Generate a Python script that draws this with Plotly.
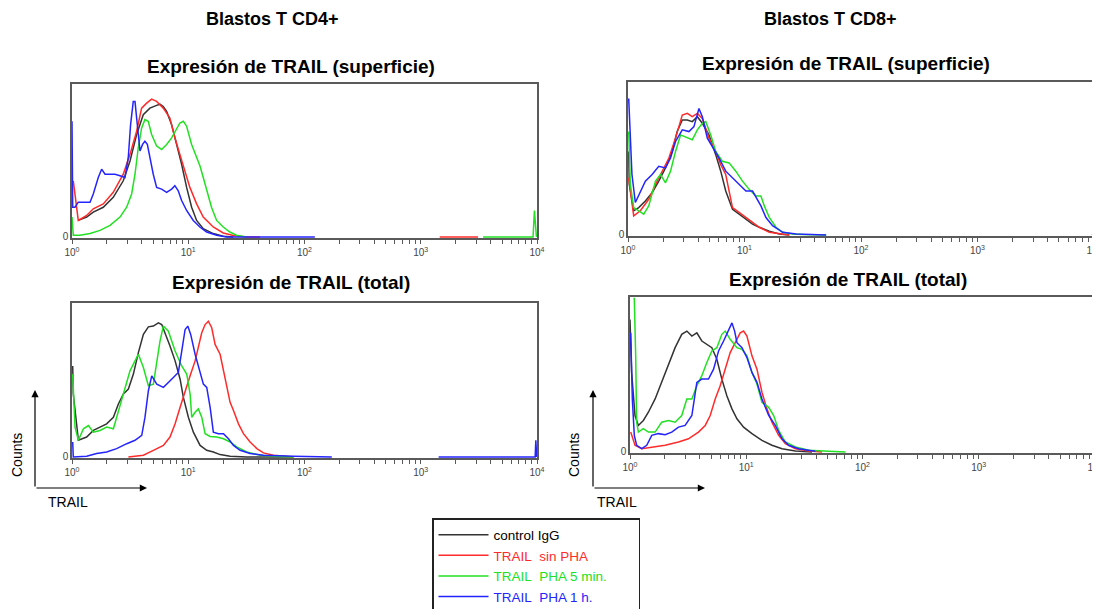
import plotly.graph_objects as go

# ---------------- data (x in log10 TRAIL units, y in relative counts) ----------------
# Panel 1: Blastos T CD4+, TRAIL superficie
p1_ctrl_log = [0.054,0.126,0.183,0.269,0.355,0.441,0.499,0.556,0.613,0.670,0.728,0.756,0.785,0.814,0.857,0.900,0.943,0.986,1.029,1.072,1.129,1.215,1.301,1.387]
p1_ctrl_cnt = [10.8,13.0,16.2,19.4,25.9,36.7,49.7,67.0,79.9,84.2,86.0,86.8,85.3,82.1,73.4,60.5,47.5,32.4,19.4,10.8,5.4,2.2,0.4,0]
p1_sin_log = [0.011,0.054,0.126,0.183,0.269,0.355,0.441,0.499,0.556,0.599,0.642,0.685,0.728,0.785,0.842,0.885,0.928,0.971,1.014,1.072,1.129,1.215,1.301,1.387,1.501,1.616,None,3.163,3.493]
p1_sin_cnt = [36.7,10.8,14.0,18.4,21.6,29.2,41.0,54.0,69.1,84.2,87.5,90.1,88.6,84.2,77.8,64.8,54.0,43.2,32.4,21.6,13.0,6.5,2.6,0.9,0,0,None,0,0]
p1_p5_log = [0.0,0.011,0.069,0.155,0.241,0.327,0.413,0.470,0.513,0.542,0.570,0.599,0.627,0.656,0.685,0.728,0.771,0.814,0.857,0.900,0.928,0.958,0.986,1.029,1.072,1.101,1.129,1.158,1.200,1.244,1.301,1.358,1.415,1.501,None,3.536,3.966,3.978,3.986,3.995]
p1_p5_cnt = [13.0,1.1,1.1,2.2,4.3,7.6,13.0,19.4,28.1,41.0,58.3,71.3,76.7,75.6,67.0,59.4,57.2,60.5,64.8,71.3,74.5,75.6,72.4,60.5,51.8,46.4,38.9,30.2,19.4,10.8,6.5,3.2,1.1,0,None,0,0,17.3,8,0]
p1_p1h_log = [0.0,0.006,0.026,0.054,0.155,0.183,0.226,0.255,0.284,0.327,0.370,0.413,0.456,0.484,0.504,0.527,0.542,0.556,0.585,0.607,0.627,0.648,0.670,0.699,0.728,0.771,0.814,0.857,0.885,0.914,0.943,0.986,1.043,1.100,1.158,1.244,1.330,2.089]
p1_p1h_cnt = [75.6,19.4,19.4,22.7,22.7,28.1,38.9,44.3,41.0,41.0,41.0,40.0,38.9,51.8,73.4,88.6,88.6,77.8,56.2,60.5,62.6,60.5,51.8,41.0,32.4,31.3,29.2,31.3,33.5,30.2,23.8,17.3,10.8,6.5,3.2,1.1,0,0]

# Panel 2: Blastos T CD8+, TRAIL superficie
p2_ctrl_log = [0.006,0.011,0.049,0.092,0.149,0.207,0.264,0.322,0.379,0.422,0.466,0.509,0.552,0.595,0.638,0.695,0.753,0.796,0.839,0.897,0.954,1.012,1.069,1.127,1.213,1.299,1.385]
p2_ctrl_cnt = [54.6,33.0,15.8,17.9,22.2,27.6,35.2,43.8,54.6,67.6,75.2,75.2,74.1,77.3,73.0,65.4,52.5,41.7,28.7,16.8,13.6,10.4,7.1,5.0,2.4,0.6,0]
p2_sin_log = [0.006,0.049,0.106,0.178,0.236,0.293,0.351,0.408,0.466,0.509,0.552,0.595,0.638,0.695,0.753,0.796,0.839,0.868,0.897,0.954,1.012,1.069,1.127,1.213,1.299,1.385]
p2_sin_cnt = [37.4,12.5,15.8,23.3,33.0,41.7,50.3,63.3,78.4,79.5,77.3,79.5,76.2,63.3,54.6,46.0,39.5,28.7,17.9,14.7,11.4,8.2,5.0,1.7,0.6,0]
p2_p5_log = [0.006,0.020,0.049,0.092,0.135,0.178,0.236,0.279,0.322,0.365,0.408,0.451,0.509,0.552,0.595,0.638,0.667,0.710,0.753,0.810,0.868,0.925,0.983,1.040,1.098,1.141,1.170,1.213,1.270,1.328,1.414,1.500,1.701]
p2_p5_cnt = [67.6,33.0,17.9,15.8,13.6,19.0,35.2,39.5,34.1,41.7,54.6,65.4,63.3,62.2,68.7,73.0,74.1,65.4,54.6,48.2,47.1,41.7,35.2,29.8,25.5,25.5,19.0,11.4,5.0,1.7,0.6,0.2,0]
p2_p1h_log = [0.006,0.034,0.063,0.106,0.149,0.207,0.264,0.322,0.365,0.408,0.466,0.523,0.566,0.609,0.638,0.681,0.724,0.782,0.839,0.897,0.954,1.012,1.069,1.112,1.141,1.184,1.241,1.328,1.443,1.701,None,3.985,3.997]
p2_p1h_cnt = [89.2,39.5,21.2,28.7,35.2,39.5,44.9,43.8,50.3,61.1,68.7,67.6,70.8,82.7,77.3,63.3,57.9,50.3,41.7,37.4,33.0,28.7,28.7,23.3,19.0,11.4,6.0,1.7,0.6,0,None,0,2]

# Panel 3: Blastos T CD4+, TRAIL total
p3_ctrl_log = [0.006,0.011,0.055,0.126,0.184,0.241,0.298,0.356,0.399,0.442,0.485,0.528,0.571,0.614,0.657,0.700,0.743,0.772,0.800,0.843,0.887,0.930,0.958,1.001,1.044,1.102,1.159,1.216,1.274,1.360,1.503,1.905]
p3_ctrl_cnt = [59.1,40.9,10.8,12.9,17.2,19.4,21.5,25.8,34.4,40.9,44.1,53.8,67.8,79.6,84.5,85.0,87.1,86.0,80.7,72.1,62.4,50.5,38.7,25.8,16.1,7.5,4.3,3.2,1.5,0.4,0,0]
p3_sin_log = [0.485,0.614,0.700,0.786,0.843,0.887,0.930,0.973,1.016,1.059,1.087,1.116,1.145,1.173,1.202,1.231,1.274,1.303,1.331,1.360,1.389,1.432,1.475,1.532,1.590,1.647,1.733,1.905]
p3_sin_cnt = [0,1.1,4.3,7.5,12.9,21.5,32.3,43.0,52.7,62.4,71.0,80.7,86.0,88.2,83.9,73.1,66.7,55.9,45.2,35.5,30.1,21.5,15.1,9.7,5.4,2.6,1.1,0]
p3_p5_log = [0.006,0.026,0.055,0.098,0.141,0.184,0.241,0.298,0.356,0.399,0.442,0.499,0.542,0.571,0.614,0.657,0.700,0.729,0.757,0.786,0.829,0.887,0.944,0.987,1.016,1.030,1.059,1.087,1.116,1.145,1.188,1.245,1.303,1.360,1.417,1.503,1.618,1.762,1.905]
p3_p5_cnt = [53.8,19.4,10.8,18.3,20.4,16.1,17.2,19.4,18.3,30.1,40.9,55.9,62.4,66.7,58.1,46.2,47.3,62.4,75.3,85.0,81.7,68.8,59.1,53.8,40.9,25.8,29.0,31.2,25.8,15.1,13.3,12.9,11.8,9.7,6.5,3.2,1.1,0.4,0]
p3_p1h_log = [0.006,0.011,0.126,0.212,0.298,0.384,0.471,0.542,0.600,0.628,0.657,0.686,0.729,0.786,0.829,0.872,0.915,0.944,0.973,0.996,1.021,1.059,1.102,1.130,1.159,1.188,1.216,1.259,1.303,1.346,1.389,1.446,1.532,1.647,1.905,2.235,None,3.154,3.984,3.990,3.997]
p3_p1h_cnt = [9.7,0,0.4,2.2,3.2,5.4,8.6,10.8,14.0,25.8,43.0,52.7,47.3,45.2,48.4,51.6,54.9,68.8,82.8,85.0,79.6,66.7,55.9,47.3,45.2,32.3,16.1,15.1,15.1,11.8,7.5,4.3,2.2,1.1,0.4,0,None,0,0,10.8,0]

# Panel 4: Blastos T CD8+, TRAIL total
p4_ctrl_log = [0.0,0.014,0.043,0.072,0.115,0.158,0.216,0.273,0.331,0.388,0.445,0.489,0.532,0.575,0.618,0.661,0.704,0.747,0.790,0.833,0.877,0.920,0.977,1.049,1.135,1.221,1.308,1.423,1.566]
p4_ctrl_cnt = [85.5,51.3,23.5,17.1,20.3,25.6,34.2,44.9,55.6,67.3,75.9,78.0,74.8,76.9,71.6,69.5,67.3,59.8,47.0,36.3,27.8,21.4,16.0,11.8,7.5,4.3,2.1,0.6,0]
p4_sin_log = [0.006,0.043,0.101,0.187,0.302,0.417,0.503,0.589,0.647,0.690,0.733,0.776,0.819,0.862,0.905,0.948,0.977,1.006,1.049,1.092,1.135,1.178,1.221,1.279,1.336,1.423,1.538,1.652]
p4_sin_cnt = [12.8,4.3,2.1,3.2,4.3,6.4,8.5,12.8,17.1,23.5,34.2,42.7,53.4,64.1,70.5,76.9,78.0,74.8,62.0,53.4,38.5,27.8,19.2,10.7,5.3,2.1,0.6,0]
p4_p5_log = [0.029,0.037,0.049,0.057,0.072,0.115,0.158,0.216,0.273,0.331,0.388,0.445,0.489,0.532,0.575,0.618,0.661,0.704,0.747,0.790,0.819,0.862,0.920,0.963,1.006,1.049,1.092,1.135,1.193,1.236,1.279,1.336,1.423,1.538,1.710,1.854,None,3.980,3.990,3.997]
p4_p5_cnt = [99,99,62.0,19.2,12.8,15.0,12.8,12.8,19.2,20.3,19.2,23.5,34.2,34.2,42.7,49.2,57.7,65.2,67.3,75.9,78.0,72.7,67.3,66.2,62.0,51.3,43.8,32.1,28.8,23.5,13.9,6.4,3.2,1.1,0.4,0,None,0,6.4,0]
p4_p1h_log = [0.006,0.020,0.037,0.057,0.101,0.144,0.187,0.244,0.302,0.359,0.417,0.474,0.532,0.575,0.618,0.675,0.719,0.762,0.805,0.848,0.877,0.900,0.920,0.963,1.006,1.049,1.092,1.135,1.193,1.250,1.308,1.365,1.451,1.595]
p4_p1h_cnt = [76.9,34.2,10.7,4.3,2.1,4.3,10.7,11.8,11.1,12.8,16.0,17.1,23.5,44.9,47.0,47.0,53.4,65.2,71.6,79.1,83.3,78.0,70.5,67.3,60.9,51.3,44.9,34.2,23.5,17.1,8.5,4.3,2.1,0.4]

series_names = ["control IgG", "TRAIL\u00a0 sin PHA", "TRAIL\u00a0 PHA 5 min.", "TRAIL\u00a0 PHA 1 h."]
series_colors = ["#333333", "#ff2b2b", "#22e022", "#2424ff"]
legend_text_colors = ["#000000", "#ff2b2b", "#22e022", "#2424ff"]

panel_titles = ["Expresión de TRAIL (superficie)", "Expresión de TRAIL (superficie)",
                "Expresión de TRAIL (total)", "Expresión de TRAIL (total)"]
column_titles = ["Blastos T CD4+", "Blastos T CD8+"]

decade_values = [1, 10, 100, 1000, 10000]
decade_labels = ["10<sup>0</sup>", "10<sup>1</sup>", "10<sup>2</sup>", "10<sup>3</sup>", "10<sup>4</sup>"]
minor_mults = [2, 3, 4, 5, 6, 7, 8, 9]

panels = [
    [(p1_ctrl_log, p1_ctrl_cnt), (p1_sin_log, p1_sin_cnt), (p1_p5_log, p1_p5_cnt), (p1_p1h_log, p1_p1h_cnt)],
    [(p2_ctrl_log, p2_ctrl_cnt), (p2_sin_log, p2_sin_cnt), (p2_p5_log, p2_p5_cnt), (p2_p1h_log, p2_p1h_cnt)],
    [(p3_ctrl_log, p3_ctrl_cnt), (p3_sin_log, p3_sin_cnt), (p3_p5_log, p3_p5_cnt), (p3_p1h_log, p3_p1h_cnt)],
    [(p4_ctrl_log, p4_ctrl_cnt), (p4_sin_log, p4_sin_cnt), (p4_p5_log, p4_p5_cnt), (p4_p1h_log, p4_p1h_cnt)],
]

# ---------------- layout geometry (page pixels) ----------------
PAGE_OFF = 8            # default body margin of the html page
W, H = 1100 - PAGE_OFF, 609 - PAGE_OFF
FONT = "Arial, Liberation Sans, sans-serif"
# (left, right, top, bottom) of each plot box in page pixels
boxes = [(72, 537, 84, 238), (628, 1094, 82, 236), (72, 537, 303, 458), (630, 1095, 297, 453)]


def px_x(p):
    return (p - PAGE_OFF) / W


def px_y(p):
    return 1 - (p - PAGE_OFF) / H


minor_vals = [m * d for d in decade_values[:-1] for m in minor_mults]

fig = go.Figure()

for pi, panel in enumerate(panels):
    ax = "" if pi == 0 else str(pi + 1)
    for si, (lx, cy) in enumerate(panel):
        xs = [None if v is None else 10 ** v for v in lx]
        fig.add_trace(go.Scatter(
            x=xs, y=cy, mode="lines",
            line=dict(color=series_colors[si], width=1.5),
            name=f'<span style="color:{legend_text_colors[si]}">{series_names[si]}</span>',
            legendgroup=str(si), showlegend=(pi == 0),
            xaxis="x" + ax, yaxis="y" + ax, hoverinfo="skip",
        ))
    l, r, t, b = boxes[pi]
    fig.layout["xaxis" + ax] = dict(
        type="log", range=[0, 4], domain=[px_x(l), px_x(r)], anchor="y" + ax,
        showline=True, mirror=True, linecolor="#5a5a5a", linewidth=1.5,
        showgrid=False, zeroline=False, automargin=False,
        tickmode="array", tickvals=decade_values, ticktext=decade_labels,
        ticks="outside", ticklen=4, tickwidth=1.2, tickcolor="#5a5a5a",
        minor=dict(tickmode="array", tickvals=minor_vals, ticks="outside", ticklen=4,
                   tickwidth=1.2, tickcolor="#5a5a5a", showgrid=False),
        tickfont=dict(size=10, color="#444444", family=FONT), layer="below traces",
        ticklabeloverflow="allow",
    )
    fig.layout["yaxis" + ax] = dict(
        range=[-0.7, 100], domain=[px_y(b), px_y(t)], anchor="x" + ax,
        showline=True, mirror=True, linecolor="#5a5a5a", linewidth=1.5,
        showgrid=False, zeroline=False, automargin=False,
        tickmode="array", tickvals=[0], ticktext=["0"], ticks="",
        tickfont=dict(size=10, color="#444444", family=FONT), layer="below traces",
    )

annotations = []
# column titles
for txt, cx in zip(column_titles, [272, 830]):
    annotations.append(dict(text=f"<b>{txt}</b>", x=px_x(cx), y=px_y(19), xref="paper", yref="paper",
                            showarrow=False, xanchor="center", yanchor="middle",
                            font=dict(size=18, color="black", family=FONT)))
# panel titles
for txt, (cx, cy) in zip(panel_titles, [(291, 66), (846, 63), (291, 282), (848, 279)]):
    annotations.append(dict(text=f"<b>{txt}</b>", x=px_x(cx), y=px_y(cy), xref="paper", yref="paper",
                            showarrow=False, xanchor="center", yanchor="middle",
                            font=dict(size=19, color="black", family=FONT)))

# Counts / TRAIL arrow glyphs
for ox, cx_counts, cx_trail in [(35, 17, 68), (593, 574, 617)]:
    annotations.append(dict(x=px_x(ox), y=px_y(390), xref="paper", yref="paper", text="",
                            showarrow=True, ax=0, ay=98, arrowhead=2, arrowsize=1.2,
                            arrowwidth=1.2, arrowcolor="black"))
    annotations.append(dict(x=px_x(ox + 112), y=px_y(488), xref="paper", yref="paper", text="",
                            showarrow=True, ax=-112, ay=0, arrowhead=2, arrowsize=1.2,
                            arrowwidth=1.2, arrowcolor="black"))
    annotations.append(dict(text="Counts", x=px_x(cx_counts), y=px_y(455), xref="paper", yref="paper",
                            showarrow=False, textangle=-90, xanchor="center", yanchor="middle",
                            font=dict(size=14, color="black", family=FONT)))
    annotations.append(dict(text="TRAIL", x=px_x(cx_trail), y=px_y(502), xref="paper", yref="paper",
                            showarrow=False, xanchor="center", yanchor="middle",
                            font=dict(size=14, color="black", family=FONT)))

fig.update_layout(
    width=W, height=H, margin=dict(l=0, r=0, t=0, b=0, autoexpand=False),
    paper_bgcolor="white", plot_bgcolor="white",
    annotations=annotations,
    legend=dict(x=px_x(432), y=px_y(518), xanchor="left", yanchor="top",
                bordercolor="#222222", borderwidth=1.5, bgcolor="white",
                font=dict(size=13.5, family=FONT, color="black"), tracegroupgap=0,
                itemwidth=50, itemclick=False, itemdoubleclick=False),
    showlegend=True,
)
# pad the legend box to the reference width
fig.data[2].name = fig.data[2].name.replace("</span>", "\u00a0" * 7 + "</span>")

fig.write_html("out.html")
